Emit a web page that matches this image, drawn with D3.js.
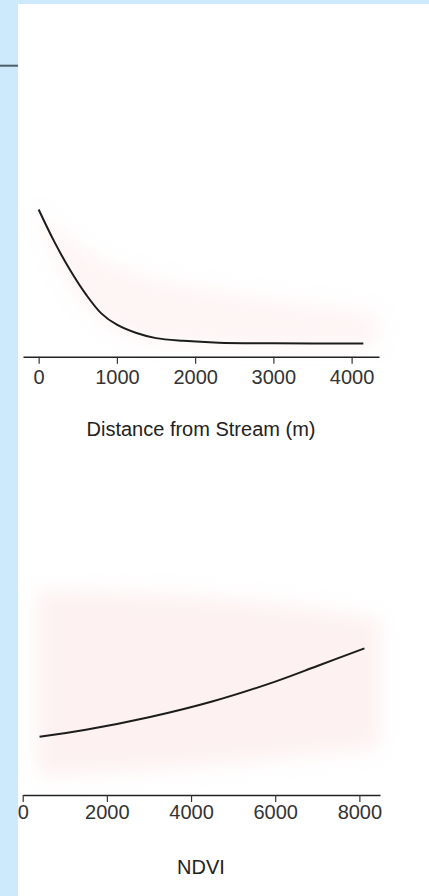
<!DOCTYPE html>
<html>
<head>
<meta charset="utf-8">
<script src="https://cdn.jsdelivr.net/npm/d3@7"></script>
<style>
	body { margin: 0; background: #fff; }
	text { font-family: "Liberation Sans", Arial, sans-serif; }
</style>
</head>
<body>
<svg id="chart" width="429" height="896"></svg>
<script>
// distance from stream panel
let dist_x = [0, 200, 400, 600, 800, 1000, 1250, 1500, 1850, 2300, 3000, 4150],
	dist_y = [1.0, 0.76, 0.55, 0.37, 0.225, 0.14, 0.078, 0.04, 0.02, 0.006, 0.001, 0],
	dist_band_x = [0, 300, 700, 1200, 1800, 2500, 3200, 3800, 4350],
	dist_band_hi = [1.0, 0.82, 0.65, 0.52, 0.44, 0.37, 0.31, 0.27, 0.22],
	dist_band_lo = [0.92, 0.5, 0.18, 0.02, -0.01, -0.02, -0.02, -0.02, -0.02],
	dist_ticks = [0, 1000, 2000, 3000, 4000];

// ndvi panel
let ndvi_x = [400, 1500, 3000, 4500, 6000, 7000, 8120],
	ndvi_y = [0.228, 0.264, 0.33, 0.413, 0.518, 0.60, 0.693],
	ndvi_band_x = [350, 2000, 4000, 6000, 8500],
	ndvi_band_hi = [1.0, 0.99, 0.97, 0.93, 0.85],
	ndvi_band_lo = [0.02, 0.04, 0.07, 0.11, 0.17],
	ndvi_ticks = [0, 2000, 4000, 6000, 8000];

let panel_titles = ['Distance from Stream (m)', 'NDVI'];

let svg = d3.select('#chart');

svg.append('defs')
	.append('filter')
	.attr('id', 'soft')
	.attr('x', '-25%').attr('y', '-25%')
	.attr('width', '150%').attr('height', '150%')
	.append('feGaussianBlur')
	.attr('stdDeviation', 10);

let panels = [
	{
		x: d3.scaleLinear().domain([-200, 4350]).range([23, 379]),
		y: d3.scaleLinear().domain([0, 1]).range([343.5, 209.5]),
		axis_y: 356.7, pad: 6, title_y: 436, band_opacity: .13,
		xs: dist_x, ys: dist_y, bx: dist_band_x, bhi: dist_band_hi, blo: dist_band_lo,
		ticks: dist_ticks, title: panel_titles[0],
	},
	{
		x: d3.scaleLinear().domain([0, 8490]).range([22.7, 380]),
		y: d3.scaleLinear().domain([0, 1]).range([780, 590]),
		axis_y: 795, pad: 3, title_y: 874, band_opacity: .19,
		xs: ndvi_x, ys: ndvi_y, bx: ndvi_band_x, bhi: ndvi_band_hi, blo: ndvi_band_lo,
		ticks: ndvi_ticks, title: panel_titles[1],
	},
];

panels.forEach((p) => {
	let g = svg.append('g');

	// confidence band, drawn soft
	let band = p.bx.map((d, i) => ({ x: d, hi: p.bhi[i], lo: p.blo[i] }));
	g.append('path')
		.datum(band)
		.attr('d', d3.area()
			.x(d => p.x(d.x))
			.y0(d => p.y(d.lo))
			.y1(d => p.y(d.hi))
			.curve(d3.curveBasis))
		.attr('fill', '#f6b4b4')
		.attr('fill-opacity', p.band_opacity)
		.attr('filter', 'url(#soft)');

	// response curve
	let pts = p.xs.map((d, i) => ({ x: d, y: p.ys[i] }));
	g.append('path')
		.datum(pts)
		.attr('d', d3.line()
			.x(d => p.x(d.x))
			.y(d => p.y(d.y))
			.curve(d3.curveCatmullRom.alpha(0.5)))
		.attr('fill', 'none')
		.attr('stroke', '#1c1c1c')
		.attr('stroke-width', 2);

	// x axis
	let ax = g.append('g')
		.attr('transform', `translate(0, ${p.axis_y})`)
		.call(d3.axisBottom(p.x)
			.tickValues(p.ticks)
			.tickFormat(d3.format('d'))
			.tickSize(7)
			.tickSizeOuter(0)
			.tickPadding(p.pad));

	ax.select('.domain')
		.attr('stroke', '#222')
		.attr('stroke-width', 1.6);
	ax.selectAll('.tick line')
		.attr('stroke', '#333')
		.attr('stroke-width', 1.2);
	ax.selectAll('.tick text')
		.attr('font-size', 20)
		.attr('font-family', '"Liberation Sans", Arial, sans-serif')
		.attr('fill', '#333');

	g.append('text')
		.attr('x', 201)
		.attr('y', p.title_y)
		.attr('text-anchor', 'middle')
		.attr('font-size', 20)
		.attr('fill', '#222')
		.text(p.title);
});

// page frame strips
svg.append('rect')
	.attr('x', 0).attr('y', 0)
	.attr('width', 18).attr('height', 896)
	.attr('fill', '#cceafc');
svg.append('rect')
	.attr('x', 0).attr('y', 0)
	.attr('width', 429).attr('height', 4)
	.attr('fill', '#cceafc');
svg.append('line')
	.attr('x1', 0).attr('x2', 18)
	.attr('y1', 65.7).attr('y2', 65.7)
	.attr('stroke', '#4d5d68')
	.attr('stroke-width', 2);
</script>
</body>
</html>
